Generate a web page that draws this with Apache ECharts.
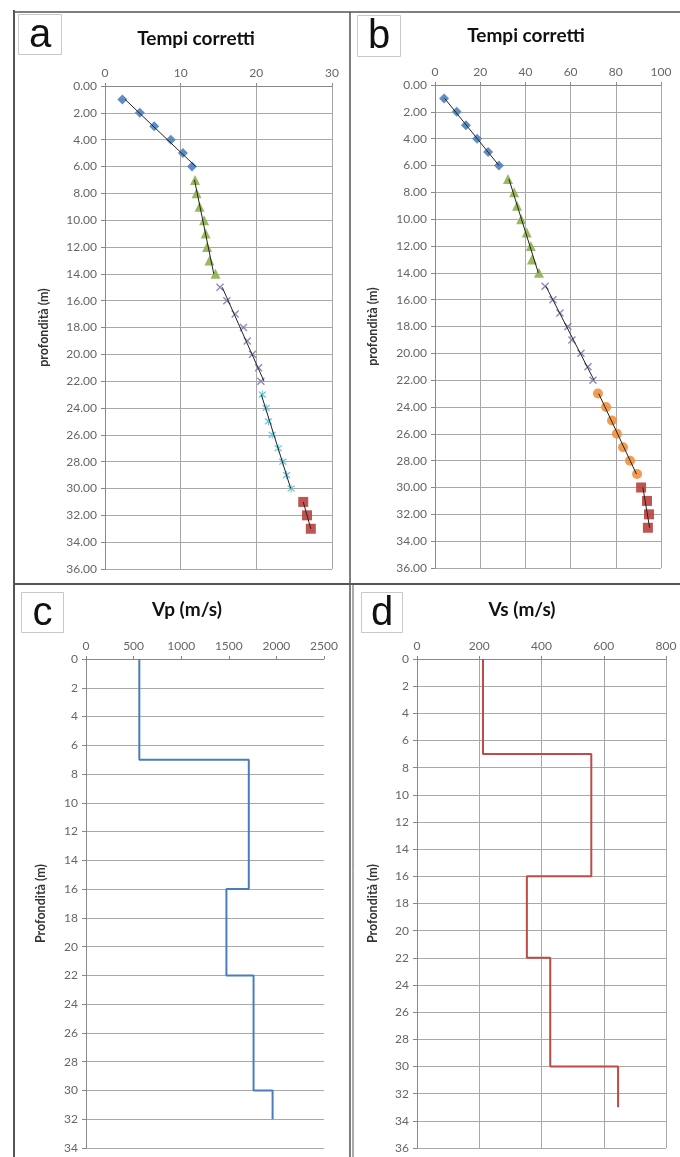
<!DOCTYPE html>
<html>
<head>
<meta charset="utf-8">
<title>Tempi corretti - Vp - Vs</title>
<script src="https://cdn.jsdelivr.net/npm/echarts@6/dist/echarts.min.js"></script>
<style>
  html, body { margin: 0; padding: 0; background: #fff; }
  #chart { width: 680px; height: 1157px; }
</style>
</head>
<body>
<div id="chart"></div>
<script>
// --- dati ---
// pannello a: tempi corretti (ms) per profondita (m)
var depthA1 = [1, 2, 3, 4, 5, 6];
var timeA1 = [2.3, 4.6, 6.5, 8.7, 10.3, 11.5];
var depthA2 = [7, 8, 9, 10, 11, 12, 13, 14];
var timeA2 = [11.9, 12.1, 12.5, 13.1, 13.3, 13.5, 13.8, 14.6];
var depthA3 = [15, 16, 17, 18, 19, 20, 21, 22];
var timeA3 = [15.2, 16.1, 17.2, 18.3, 18.8, 19.5, 20.3, 20.6];
var depthA4 = [23, 24, 25, 26, 27, 28, 29, 30];
var timeA4 = [20.8, 21.3, 21.6, 22.1, 22.9, 23.5, 24.0, 24.6];
var depthA5 = [31, 32, 33];
var timeA5 = [26.2, 26.7, 27.2];

// pannello b
var depthB1 = [1, 2, 3, 4, 5, 6];
var timeB1 = [4.0, 9.6, 13.7, 18.6, 23.5, 28.3];
var depthB2 = [7, 8, 9, 10, 11, 12, 13, 14];
var timeB2 = [32.3, 35.0, 36.3, 38.1, 40.6, 42.4, 42.9, 46.0];
var depthB3 = [15, 16, 17, 18, 19, 20, 21, 22];
var timeB3 = [48.7, 52.2, 55.3, 58.8, 60.6, 64.6, 67.7, 69.9];
var depthB4 = [23, 24, 25, 26, 27, 28, 29];
var timeB4 = [72.1, 75.7, 78.3, 80.5, 83.2, 86.3, 89.4];
var depthB5 = [30, 31, 32, 33];
var timeB5 = [91.2, 93.8, 94.7, 94.2];

// pannello c: Vp per strato
var vpTop = [0, 7, 16, 22, 30];
var vpBottom = [7, 16, 22, 30, 32];
var vpValue = [560, 1710, 1475, 1760, 1960];

// pannello d: Vs per strato
var vsTop = [0, 7, 16, 22, 30];
var vsBottom = [7, 16, 22, 30, 33];
var vsValue = [212, 560, 353, 428, 646];

(function() {

  var FONT = 'Lato, "DejaVu Sans", sans-serif';

  var SYM_X = 'path://M0,1.2 L1.2,0 L10,8.8 L8.8,10 Z M8.8,0 L10,1.2 L1.2,10 L0,8.8 Z';
  var SYM_STAR = 'path://M0,1.2 L1.2,0 L10,8.8 L8.8,10 Z M8.8,0 L10,1.2 L1.2,10 L0,8.8 Z M4.4,-1 L5.6,-1 L5.6,11 L4.4,11 Z';

  function pairs(xs, ys) {
    return xs.map(function(x, i) { return [x, ys[i]]; });
  }

  // linea di tendenza lineare (come in Excel)
  function trend(depths, times) {
    var n = depths.length, sx = 0, sy = 0, sxx = 0, sxy = 0;
    for (var i = 0; i < n; i++) {
      sx += depths[i]; sy += times[i];
      sxx += depths[i] * depths[i]; sxy += depths[i] * times[i];
    }
    var b = (n * sxy - sx * sy) / (n * sxx - sx * sx);
    var a = (sy - b * sx) / n;
    var d0 = depths[0], d1 = depths[n - 1];
    return [[a + b * d0, d0], [a + b * d1, d1]];
  }

  // profilo a gradini dagli strati
  function steps(tops, bottoms, vals) {
    var out = [];
    for (var i = 0; i < vals.length; i++) {
      out.push([vals[i], tops[i]]);
      out.push([vals[i], bottoms[i]]);
    }
    return out;
  }

  function xAxisOf(idx, max, interval, grid) {
    return {
      type: 'value', gridIndex: idx, position: 'top',
      min: 0, max: max, interval: interval,
      axisLine: { show: true, onZero: false, lineStyle: { color: '#888' } },
      axisTick: { show: true, length: 3, lineStyle: { color: '#888' } },
      axisLabel: {
        color: '#666', fontSize: 12, fontFamily: FONT, margin: 7,
        formatter: function(v) { return String(v); }
      },
      splitLine: { show: grid, lineStyle: { color: '#a8a8a8', width: 1 } }
    };
  }

  function yAxisOf(idx, max, name, gap, fixed) {
    return {
      type: 'value', gridIndex: idx, inverse: true,
      min: 0, max: max, interval: 2,
      name: name, nameLocation: 'middle', nameGap: gap,
      nameTextStyle: { color: '#333', fontSize: 12.5, fontWeight: 'bold', fontFamily: FONT },
      axisLine: { show: true, onZero: false, lineStyle: { color: '#888' } },
      axisTick: { show: true, length: 4, lineStyle: { color: '#888' } },
      axisLabel: {
        color: '#666', fontSize: 12, fontFamily: FONT, margin: 8,
        formatter: function(v) { return fixed ? v.toFixed(2) : String(v); }
      },
      splitLine: { show: true, lineStyle: { color: '#a8a8a8', width: 1 } }
    };
  }

  function pointSeries(idx, depths, times, symbol, size, color) {
    return [{
      type: 'line', xAxisIndex: idx, yAxisIndex: idx,
      data: trend(depths, times), showSymbol: false, silent: true, z: 3,
      lineStyle: { color: '#222', width: 1 }
    }, {
      type: 'scatter', xAxisIndex: idx, yAxisIndex: idx,
      data: pairs(times, depths), symbol: symbol, symbolSize: size, z: 2,
      itemStyle: { color: color, opacity: 0.9 }
    }];
  }

  var BLUE = '#4f81bd', GREEN = '#8fb04f', PURPLE = '#8a78b0',
      CYAN = '#5bc0d6', RED = '#b8413e', ORANGE = '#f0913e';

  var series = [].concat(
    pointSeries(0, depthA1, timeA1, 'diamond', 10, BLUE),
    pointSeries(0, depthA2, timeA2, 'triangle', 10, GREEN),
    pointSeries(0, depthA3, timeA3, SYM_X, 8, PURPLE),
    pointSeries(0, depthA4, timeA4, SYM_STAR, 8, CYAN),
    pointSeries(0, depthA5, timeA5, 'rect', 10, RED),
    pointSeries(1, depthB1, timeB1, 'diamond', 10, BLUE),
    pointSeries(1, depthB2, timeB2, 'triangle', 10, GREEN),
    pointSeries(1, depthB3, timeB3, SYM_X, 8, PURPLE),
    pointSeries(1, depthB4, timeB4, 'circle', 10, ORANGE),
    pointSeries(1, depthB5, timeB5, 'rect', 10, RED),
    [{
      type: 'line', xAxisIndex: 2, yAxisIndex: 2,
      data: steps(vpTop, vpBottom, vpValue), showSymbol: false,
      lineStyle: { color: '#4a7ebb', width: 2 }
    }, {
      type: 'line', xAxisIndex: 3, yAxisIndex: 3,
      data: steps(vsTop, vsBottom, vsValue), showSymbol: false,
      lineStyle: { color: '#be4b48', width: 2 }
    }]
  );

  var titleStyle = { color: '#111', fontSize: 19, fontWeight: 'bold', fontFamily: FONT };

  function letterBox(x, y, w, h, txt) {
    return {
      type: 'group', left: x, top: y,
      children: [{
        type: 'rect', shape: { x: 0, y: 0, width: w, height: h },
        style: { fill: '#fff', stroke: '#c8c8c8', lineWidth: 1 }
      }, {
        type: 'text', x: w / 2, y: h / 2 + 1,
        style: { text: txt, fill: '#111', fontSize: 40, fontFamily: 'Liberation Sans, Arial, sans-serif',
                 align: 'center', verticalAlign: 'middle' }
      }]
    };
  }

  function hline(x1, x2, y, w) {
    return { type: 'line', shape: { x1: x1, y1: y, x2: x2, y2: y }, style: { stroke: '#555', lineWidth: w } };
  }
  function vline(x, y1, y2, w) {
    return { type: 'line', shape: { x1: x, y1: y1, x2: x, y2: y2 }, style: { stroke: '#555', lineWidth: w } };
  }

  var option = {
    backgroundColor: '#fff',
    animation: false,
    title: [
      { text: 'Tempi corretti', left: 196, top: 29, textAlign: 'center', textStyle: titleStyle, padding: 0 },
      { text: 'Tempi corretti', left: 526, top: 26, textAlign: 'center', textStyle: titleStyle, padding: 0 },
      { text: 'Vp (m/s)', left: 187, top: 600, textAlign: 'center', textStyle: titleStyle, padding: 0 },
      { text: 'Vs (m/s)', left: 522, top: 600, textAlign: 'center', textStyle: titleStyle, padding: 0 }
    ],
    grid: [
      { left: 105, top: 86, width: 227, height: 483 },
      { left: 435, top: 85, width: 226, height: 483 },
      { left: 86, top: 659, width: 238, height: 489 },
      { left: 417, top: 659, width: 249, height: 489 }
    ],
    xAxis: [
      xAxisOf(0, 30, 10, true),
      xAxisOf(1, 100, 20, true),
      xAxisOf(2, 2500, 500, false),
      xAxisOf(3, 800, 200, true)
    ],
    yAxis: [
      yAxisOf(0, 36, 'profondità (m)', 55, true),
      yAxisOf(1, 36, 'profondità (m)', 56, true),
      yAxisOf(2, 34, 'Profondità (m)', 39, false),
      yAxisOf(3, 36, 'Profondità (m)', 38, false)
    ],
    graphic: [
      vline(14, 10, 1157, 2),
      hline(14, 680, 12, 1.5),
      vline(350, 12, 1157, 1.5),
      vline(353, 584, 1157, 1),
      hline(14, 680, 584, 2),
      letterBox(18, 14, 43, 40, 'a'),
      letterBox(357, 15, 43, 41, 'b'),
      letterBox(21, 592, 42, 40, 'c'),
      letterBox(361, 592, 41, 40, 'd')
    ],
    series: series
  };

  var chart = echarts.init(document.getElementById('chart'));
  chart.setOption(option);

})();
</script>
</body>
</html>
